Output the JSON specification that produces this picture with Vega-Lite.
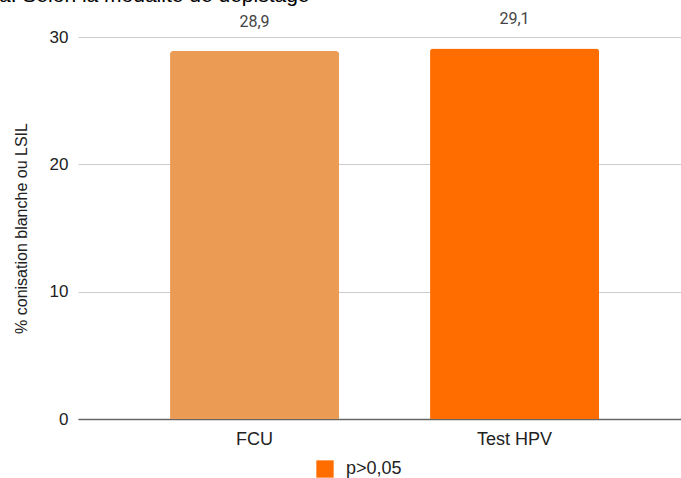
{
  "$schema": "https://vega.github.io/schema/vega-lite/v6.json",
  "width": 603,
  "height": 382,
  "autosize": {"type": "none"},
  "padding": {"left": 78, "top": 37, "right": 0, "bottom": 59},
  "background": "white",
  "config": {
    "font": "Liberation Sans",
    "view": {"stroke": null}
  },
  "title": {
    "text": "a. Selon la modalité de dépistage",
    "anchor": "start",
    "frame": "group",
    "font": "Liberation Sans",
    "fontSize": 21,
    "fontWeight": "normal",
    "color": "#000000",
    "dx": -79,
    "dy": -5,
    "offset": 0
  },
  "data": {
    "values": [
      {"modalite": "FCU", "pct": 28.9, "label": "28,9", "serie": "FCU"},
      {"modalite": "Test HPV", "pct": 29.1, "label": "29,1", "serie": "p>0,05"}
    ]
  },
  "encoding": {
    "x": {
      "field": "modalite",
      "type": "nominal",
      "sort": null,
      "scale": {"paddingInner": 0.35, "paddingOuter": 0.3346, "align": 0.529},
      "axis": {
        "title": null,
        "labelAngle": 0,
        "labelFontSize": 18,
        "labelColor": "#222222",
        "labelPadding": 11,
        "ticks": false,
        "domainColor": "#666666",
        "domainWidth": 1.5
      }
    },
    "y": {
      "field": "pct",
      "type": "quantitative",
      "scale": {"domain": [0, 30], "nice": false},
      "axis": {
        "title": "% conisation blanche ou LSIL",
        "titleFontSize": 16,
        "titleFontWeight": "normal",
        "titleColor": "#222222",
        "titlePadding": 20,
        "values": [0, 10, 20, 30],
        "labelFontSize": 17,
        "labelColor": "#222222",
        "labelPadding": 10,
        "ticks": false,
        "domain": false,
        "gridColor": "#cccccc",
        "gridWidth": 1
      }
    }
  },
  "layer": [
    {
      "mark": {"type": "bar", "cornerRadiusTopLeft": 3, "cornerRadiusTopRight": 3},
      "encoding": {
        "color": {
          "field": "serie",
          "type": "nominal",
          "scale": {"domain": ["FCU", "p>0,05"], "range": ["#EC9B55", "#FF6D01"]},
          "legend": {
            "values": ["p>0,05"],
            "title": null,
            "orient": "none",
            "legendX": 238,
            "legendY": 423,
            "symbolType": "square",
            "symbolSize": 300,
            "symbolStrokeWidth": 0,
            "labelFontSize": 18,
            "labelColor": "#222222",
            "labelOffset": 12
          }
        }
      }
    },
    {
      "mark": {"type": "text", "font": "Roboto", "baseline": "alphabetic", "dy": -24, "fontSize": 16, "color": "#444444"},
      "encoding": {"text": {"field": "label"}}
    }
  ]
}
